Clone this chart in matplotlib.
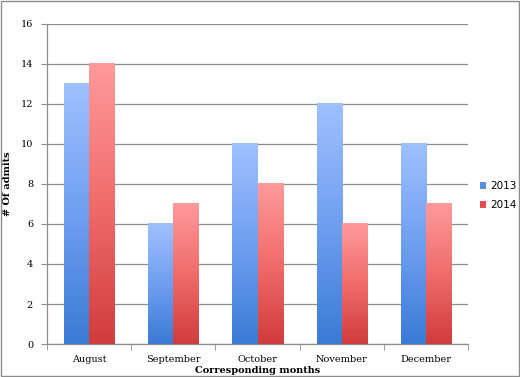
import numpy as np
import matplotlib.pyplot as plt
from matplotlib.colors import LinearSegmentedColormap
from matplotlib.patches import Rectangle, Patch

months = ["August", "September", "October", "November", "December"]
admits_2013 = [13, 6, 10, 12, 10]
admits_2014 = [14, 7, 8, 6, 7]
years = ["2013", "2014"]

blue_cmap = LinearSegmentedColormap.from_list("b", ["#3a7bd5", "#6f9ff0", "#a0c0ff"])
red_cmap = LinearSegmentedColormap.from_list("r", ["#d03c3c", "#f06c6c", "#ff9a9a"])

fig = plt.figure(figsize=(5.2, 3.77), dpi=100)
ax = fig.add_axes([0.0904, 0.0875, 0.81, 0.849])

ymax = 16
width = 0.3
grad = np.linspace(0, 1, 256).reshape(-1, 1)

def draw_bars(values, offset, cmap):
    # vertical gradient per bar: dark at the base, light at the top
    for i, v in enumerate(values):
        x0 = i + offset
        ax.imshow(grad, cmap=cmap, vmin=0, vmax=1, origin="lower",
                  extent=[x0, x0 + width, 0, v], aspect="auto", zorder=3)

draw_bars(admits_2013, -width, blue_cmap)
draw_bars(admits_2014, 0, red_cmap)

ax.set_xlim(-0.5, 4.5)
ax.set_ylim(0, ymax)
ax.set_yticks(range(0, 17, 2))
ax.set_xticks(range(5))
ax.set_xticklabels(months)
ax.set_xticks(np.arange(-0.5, 5, 1), minor=True)
ax.tick_params(axis="x", which="major", length=0, pad=8)
ax.tick_params(axis="x", which="minor", length=4, color="#8c8c8c", direction="out")
ax.tick_params(axis="y", length=4, color="#8c8c8c", direction="out", pad=6)
for lab in ax.get_xticklabels() + ax.get_yticklabels():
    lab.set_fontfamily("DejaVu Serif")
    lab.set_fontsize(7)

ax.yaxis.grid(True, color="#8c8c8c", linewidth=0.9, zorder=0)
ax.set_axisbelow(True)
for s in ["top", "right"]:
    ax.spines[s].set_visible(False)
for s in ["left", "bottom"]:
    ax.spines[s].set_color("#8c8c8c")
    ax.spines[s].set_linewidth(0.9)

ax.set_xlabel("Corresponding months", fontfamily="DejaVu Serif", fontsize=7,
              fontweight="bold", labelpad=1)
ax.set_ylabel("# Of admits", fontfamily="DejaVu Serif", fontsize=7,
              fontweight="bold", labelpad=6)

handles = [Patch(facecolor="#5a8ee0"), Patch(facecolor="#e05050")]
fig.legend(handles, years, loc="upper left", bbox_to_anchor=(0.905, 0.545),
           frameon=False, handlelength=0.6, handleheight=0.6, handletextpad=0.4,
           labelspacing=0.9, prop={"family": "DejaVu Sans", "size": 7.5})

fig.patches.append(Rectangle((0.002, 0.003), 0.996, 0.994, transform=fig.transFigure,
                             fill=False, edgecolor="#8c8c8c", linewidth=1))

fig.savefig("out.png", dpi=100)
